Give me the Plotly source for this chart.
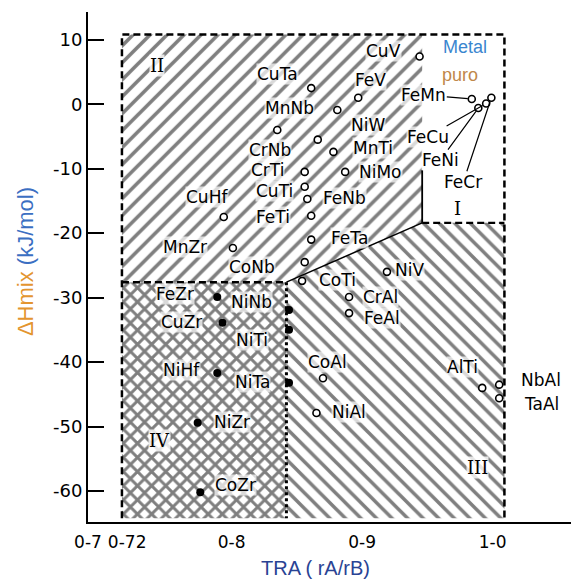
import plotly.graph_objects as go

# ---------------- data ----------------
# region boundaries (TRA, dHmix)
tra_left, tra_iv_right, tra_box_left, tra_right = 0.716, 0.842, 0.946, 1.009
dh_top, dh_box_bottom, dh_iv_top, dh_bottom = 10.8, -18.4, -27.6, -64.2
dh_box_side_top = -10.2

# open-circle systems
names_open = ["CuTa", "CuV", "FeV", "MnNb", "CrNb", "NiW", "MnTi", "CrTi", "CuTi", "FeNb",
              "FeTi", "CuHf", "MnZr", "CoNb", "NiMo", "FeTa", "NiV", "CoTi", "CrAl", "FeAl",
              "CoAl", "NiAl", "AlTi", "NbAl", "TaAl"]
tra_open = [0.861, 0.944, 0.897, 0.881, 0.835, 0.866, 0.878, 0.856, 0.856, 0.858,
            0.861, 0.794, 0.801, 0.856, 0.887, 0.861, 0.919, 0.854, 0.890, 0.890,
            0.870, 0.865, 0.992, 1.005, 1.005]
dh_open = [2.5, 7.4, 1.0, -0.9, -4.0, -5.5, -7.4, -10.5, -12.8, -14.7,
           -17.3, -17.5, -22.3, -24.5, -10.5, -21.0, -26.0, -27.4, -29.9, -32.4,
           -42.5, -47.9, -44.0, -43.5, -45.6]

# Fe-based cluster near pure metals (labels with leader lines)
names_fe = ["FeMn", "FeCu", "FeNi", "FeCr"]
tra_fe = [0.984, 0.995, 0.989, 0.999]
dh_fe = [0.8, 0.1, -0.6, 1.0]

# filled-dot systems (region IV)
names_fill = ["FeZr", "NiNb", "CuZr", "NiTi", "NiHf", "NiTa", "NiZr", "CoZr"]
tra_fill = [0.789, 0.844, 0.793, 0.844, 0.789, 0.844, 0.774, 0.776]
dh_fill = [-29.9, -31.9, -33.9, -35.0, -41.7, -43.2, -49.4, -60.2]

# region numerals
region_names = ["II", "I", "III", "IV"]
region_tra = [0.743, 0.973, 0.988, 0.745]
region_dh = [6.0, -16.1, -56.4, -52.2]

# ticks
x_tickvals = [0.69, 0.72, 0.8, 0.9, 1.0]
x_ticktext = ["0-7", "0-72", "0-8", "0-9", "1-0"]
y_tickvals = [10, 0, -10, -20, -30, -40, -50, -60]
y_ticktext = ["10", "0", "-10", "-20", "-30", "-40", "-50", "-60"]

# ---------------- label offsets (px; dx right, dy up) ----------------
off_open = [(-34, 14), (-36, 5), (12, 18), (-48, 2), (-7, -20), (50, 15), (40, 4), (-37, 2),
            (-30, -4), (37, 1), (-38, -1), (-17, 20), (-48, 1), (-53, -5), (35, 0), (38, 2),
            (23, 2), (35, 1), (31, 0), (33, -5), (5, 16), (33, 1), (-20, 21), (42, 5), (42, -6)]
off_fe = [(-48, 4), (-58, -33), (-38, -52), (-28, -84)]
off_fill = [(-42, 3), (-38, 8), (-41, 1), (-37, -10), (-36, 3), (-37, 1), (34, 1), (35, 7)]

L, M, BL, R = tra_left, tra_iv_right, tra_box_left, tra_right
T, BB, IVt, B = dh_top, dh_box_bottom, dh_iv_top, dh_bottom

fig = go.Figure()

# region IV (cross hatch)
fig.add_trace(go.Scatter(x=[L, M, M, L, L], y=[IVt, IVt, B, B, IVt], mode="lines",
                         fill="toself", fillcolor="white", line=dict(width=0),
                         fillpattern=dict(shape="x", size=10, solidity=0.5, fgcolor="#000", bgcolor="white"),
                         hoverinfo="skip", showlegend=False))
# region II (/ hatch)
fig.add_trace(go.Scatter(x=[L, L, BL, BL, M, L], y=[IVt, T, T, BB, IVt, IVt], mode="lines",
                         fill="toself", fillcolor="white", line=dict(width=0),
                         fillpattern=dict(shape="/", size=12, solidity=0.3, fgcolor="#000", bgcolor="white"),
                         hoverinfo="skip", showlegend=False))
# region III (\ hatch)
fig.add_trace(go.Scatter(x=[M, BL, R, R, M, M], y=[IVt, BB, BB, B, B, IVt], mode="lines",
                         fill="toself", fillcolor="white", line=dict(width=0),
                         fillpattern=dict(shape="\\", size=11, solidity=0.32, fgcolor="#000", bgcolor="white"),
                         hoverinfo="skip", showlegend=False))

# borders
dash = "7px,4px"
fig.add_trace(go.Scatter(x=[L, L, R, R], y=[B, T, T, B], mode="lines",
                         line=dict(color="#000", width=2.5, dash=dash), hoverinfo="skip", showlegend=False))
fig.add_trace(go.Scatter(x=[L, M], y=[IVt, IVt], mode="lines",
                         line=dict(color="#000", width=2.5, dash=dash), hoverinfo="skip", showlegend=False))
fig.add_trace(go.Scatter(x=[M, M], y=[IVt, B], mode="lines",
                         line=dict(color="#000", width=3, dash="dot"), hoverinfo="skip", showlegend=False))
fig.add_trace(go.Scatter(x=[M, BL], y=[IVt, BB], mode="lines",
                         line=dict(color="#000", width=1.5), hoverinfo="skip", showlegend=False))
fig.add_trace(go.Scatter(x=[BL, BL], y=[dh_box_side_top, BB], mode="lines",
                         line=dict(color="#000", width=1.8), hoverinfo="skip", showlegend=False))
fig.add_trace(go.Scatter(x=[BL, R], y=[BB, BB], mode="lines",
                         line=dict(color="#000", width=2.2, dash=dash), hoverinfo="skip", showlegend=False))

# markers
fig.add_trace(go.Scatter(x=tra_open + tra_fe, y=dh_open + dh_fe, mode="markers",
                         marker=dict(symbol="circle", size=7, color="white",
                                     line=dict(color="#000", width=1.6)),
                         hoverinfo="skip", showlegend=False))
fig.add_trace(go.Scatter(x=tra_fill, y=dh_fill, mode="markers",
                         marker=dict(symbol="circle", size=8, color="#000"),
                         hoverinfo="skip", showlegend=False))

lab_font = dict(family="DejaVu Sans", size=17, color="#000")
ann = []
for n, x, y, (dx, dy) in zip(names_open + names_fill, tra_open + tra_fill, dh_open + dh_fill,
                             off_open + off_fill):
    ann.append(dict(x=x, y=y, xref="x", yref="y", text=n, showarrow=False, xshift=dx, yshift=dy,
                    font=lab_font, bgcolor="rgba(255,255,255,0.7)", borderpad=0))
for n, x, y, (dx, dy) in zip(names_fe, tra_fe, dh_fe, off_fe):
    ann.append(dict(x=x, y=y, xref="x", yref="y", text=n, showarrow=True, ax=dx, ay=-dy,
                    arrowhead=0, arrowwidth=1.2, arrowcolor="#000", standoff=4,
                    font=lab_font, bgcolor="rgba(255,255,255,0.7)", borderpad=0))
for n, x, y in zip(region_names, region_tra, region_dh):
    ann.append(dict(x=x, y=y, xref="x", yref="y", text=n, showarrow=False,
                    font=dict(family="DejaVu Serif", size=18, color="#000"),
                    bgcolor="rgba(255,255,255,0.8)", borderpad=0))
ann.append(dict(x=0.979, y=8.8, xref="x", yref="y", text="Metal", showarrow=False,
                font=dict(family="Liberation Sans", size=18, color="#3a86cf")))
ann.append(dict(x=0.975, y=4.6, xref="x", yref="y", text="puro", showarrow=False,
                font=dict(family="Liberation Sans", size=18, color="#c0874a")))
# axis titles
ann.append(dict(x=-0.128, y=0.51, xref="paper", yref="paper", showarrow=False, textangle=-90,
                xanchor="center", yanchor="middle",
                text="<span style='color:#e3952f'>ΔHmix</span> <span style='color:#3b6fc2'>(kJ/mol)</span>",
                font=dict(family="Liberation Sans", size=22)))
ann.append(dict(x=0.47, y=-0.09, xref="paper", yref="paper", showarrow=False,
                xanchor="center", yanchor="middle",
                text="TRA ( rA/rB)", font=dict(family="Liberation Sans", size=20, color="#2a4394")))

fig.update_layout(
    width=574, height=585,
    margin=dict(l=88, r=3, t=12, b=63),
    paper_bgcolor="white", plot_bgcolor="white",
    annotations=ann,
    xaxis=dict(range=[0.69, 1.06], showgrid=False, zeroline=False, showline=True,
               linecolor="#000", linewidth=2, ticks="", tickvals=x_tickvals, ticktext=x_ticktext,
               tickfont=dict(family="DejaVu Sans", size=17, color="#000"), ticklabelstandoff=4),
    yaxis=dict(range=[-64.8, 14.3], showgrid=False, zeroline=False, showline=True,
               linecolor="#000", linewidth=2, ticks="inside", ticklen=16, tickwidth=2,
               tickcolor="#000", tickvals=y_tickvals, ticktext=y_ticktext,
               tickfont=dict(family="DejaVu Sans", size=18, color="#000")),
)

fig.write_html("out.html")
